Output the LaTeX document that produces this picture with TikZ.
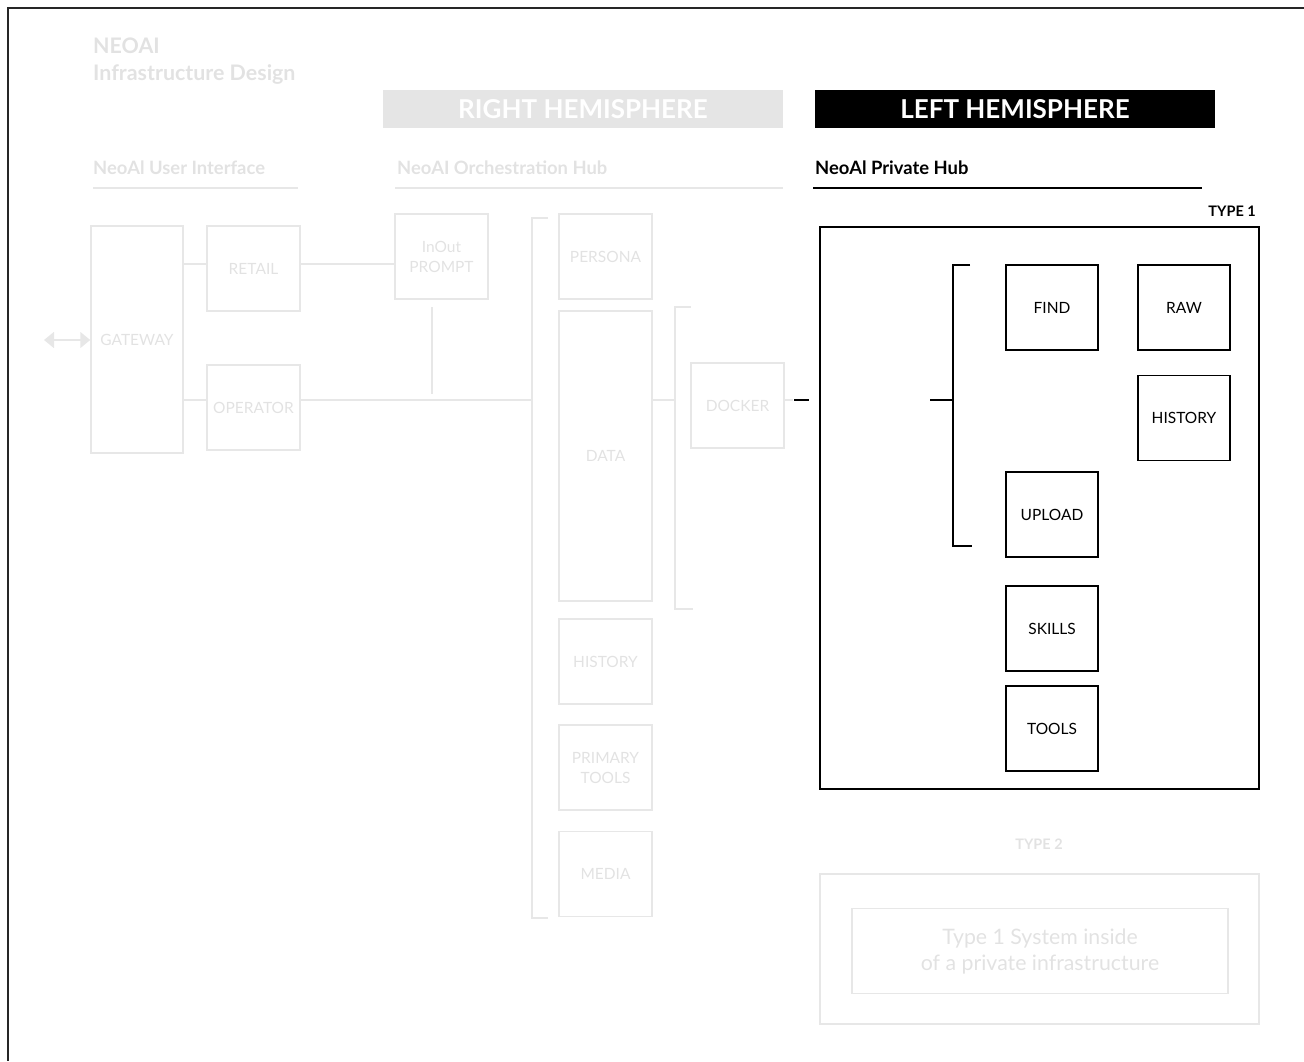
\documentclass[tikz,border=0pt]{standalone}
\usepackage{fontspec}
\setmainfont{Lato}
\usetikzlibrary{arrows.meta,calc}
\definecolor{faint}{RGB}{231,231,231}
\definecolor{fainttx}{RGB}{226,226,226}
\definecolor{hemigray}{RGB}{229,229,229}
\begin{document}
\begin{tikzpicture}[x=1pt,y=-1pt,
  fbox/.style={draw=faint,line width=1.5pt,inner sep=0pt,text=fainttx,
    font=\fontsize{15.5}{20}\selectfont,align=center,minimum width=93pt,minimum height=85pt},
  bbox/.style={draw=black,line width=1.3pt,inner sep=0pt,text=black,
    font=\fontsize{15.5}{20}\selectfont,align=center,minimum width=92pt,minimum height=85pt},
  fline/.style={draw=faint,line width=1.5pt},
  bline/.style={draw=black,line width=1.3pt},
  hemi/.style={inner sep=0pt,minimum width=400pt,minimum height=38pt,text=white,
    font=\bfseries\fontsize{26}{30}\selectfont},
  sect/.style={inner sep=0pt,anchor=base west,font=\bfseries\fontsize{18.4}{22}\selectfont},
  ttl/.style={inner sep=0pt,anchor=base west,text=fainttx,font=\bfseries\fontsize{21.4}{26}\selectfont},
  typelbl/.style={inner sep=0pt,font=\bfseries\fontsize{14.5}{18}\selectfont}
]
\useasboundingbox (0,0) rectangle (1304,1061);
% frame
\coordinate (frTL) at (8,8);
\coordinate (frTR) at (1304,8);
\coordinate (frBL) at (8,1061);
\draw[line width=1.5pt,draw=black!85] (frTR) -- (frTL) -- (frBL);

% title
\node[ttl] (t1) at (93,53) {NEOAI};
\node[ttl] (t2) at (93,80) {Infrastructure Design};

% hemispheres
\node[hemi,fill=hemigray] (rh) at (583,109) {RIGHT HEMISPHERE};
\node[hemi,fill=black] (lh) at (1015,109) {LEFT HEMISPHERE};

% section headings
\node[sect,text=fainttx] (s1) at (93,174) {NeoAl User Interface};
\node[sect,text=fainttx] (s2) at (397,174) {NeoAI Orchestration Hub};
\node[sect,text=black] (s3) at (815,174) {NeoAl Private Hub};
\coordinate (u1a) at (93,188); \coordinate (u1b) at (298,188);
\coordinate (u2a) at (395,188); \coordinate (u2b) at (783,188);
\coordinate (u3a) at (813,188); \coordinate (u3b) at (1202,188);
\draw[fline] (u1a) -- (u1b);
\draw[fline] (u2a) -- (u2b);
\draw[bline] (u3a) -- (u3b);

% UI column
\node[fbox,minimum width=92pt,minimum height=227pt] (gw) at (137,339.5) {GATEWAY};
\node[fbox] (retail) at (253.5,268.5) {RETAIL};
\node[fbox] (oper) at (253.5,407.5) {OPERATOR};
\coordinate (arrL) at (44,340);
\draw[draw=faint,fill=faint,line width=1.5pt,{Triangle[length=10pt,width=16pt]}-{Triangle[length=10pt,width=16pt]}] (arrL) -- (gw.west |- arrL);
\draw[fline] ([yshift=4.5pt]retail.west) -- ([yshift=4.5pt]retail.west -| gw.east);
\draw[fline] ([yshift=7.5pt]oper.west) -- ([yshift=7.5pt]oper.west -| gw.east);

% Orchestration
\node[fbox] (inout) at (441.5,256.5) {InOut\\PROMPT};
\draw[fline] ([yshift=4.5pt]retail.east) -- ([yshift=4.5pt]retail.east -| inout.west);
\coordinate (b1t) at (548,218);
\coordinate (b1tc) at (532,218);
\coordinate (b1bc) at (532,918);
\coordinate (b1b) at (548,918);
\draw[fline] (b1t) -- (b1tc) -- (b1bc) -- (b1b);
\draw[fline] ([yshift=7.5pt]oper.east) -- ([yshift=7.5pt]oper.east -| b1tc);
\draw[fline] ([xshift=-9.5pt,yshift=-7pt]inout.south) -- ([xshift=-9.5pt,yshift=-94pt]inout.south);

\node[fbox] (persona) at (605.5,256.5) {PERSONA};
\node[fbox,minimum height=290pt] (data) at (605.5,456) {DATA};
\node[fbox] (hist1) at (605.5,661.5) {HISTORY};
\node[fbox] (prim) at (605.5,767.5) {PRIMARY\\TOOLS};
\node[fbox] (media) at (605.5,874) {MEDIA};

\coordinate (b2t) at (691,307);
\coordinate (b2tc) at (675,307);
\coordinate (b2bc) at (675,609);
\coordinate (b2b) at (693,609);
\draw[fline] (b2t) -- (b2tc) -- (b2bc) -- (b2b);
\draw[fline] ([yshift=56pt]data.east) -- ([yshift=56pt]data.east -| b2tc);

\node[fbox] (docker) at (737.5,405.5) {DOCKER};
\coordinate (dk1) at (793,400);
\coordinate (dk2) at (794,400);
\coordinate (dk3) at (809,400);
\draw[fline] ([yshift=5.5pt]docker.east) -- (dk1);
\draw[bline] (dk2) -- (dk3);

% Private hub
\node[typelbl,anchor=east] (ty1) at (1256,211) {TYPE 1};
\node[draw=black,line width=1.3pt,inner sep=0pt,minimum width=439pt,minimum height=562pt] (t1box) at (1039.5,508) {};
\coordinate (b3l) at (930,400);
\coordinate (b3m) at (953,400);
\coordinate (b3t) at (970,265);
\coordinate (b3tc) at (953,265);
\coordinate (b3bc) at (953,546);
\coordinate (b3b) at (972,546);
\draw[bline] (b3l) -- (b3m);
\draw[bline] (b3t) -- (b3tc) -- (b3bc) -- (b3b);

\node[bbox] (find) at (1052,307.5) {FIND};
\node[bbox] (raw) at (1184,307.5) {RAW};
\node[bbox] (hist2) at (1184,418) {HISTORY};
\node[bbox] (upload) at (1052,514.5) {UPLOAD};
\node[bbox] (skills) at (1052,628.5) {SKILLS};
\node[bbox] (tools) at (1052,728.5) {TOOLS};

% Type 2
\node[typelbl,text=fainttx] (ty2) at (1039,844) {TYPE 2};
\node[draw=faint,line width=1.5pt,inner sep=0pt,minimum width=439pt,minimum height=150pt] (t2box) at (1039.5,949) {};
\node[draw=faint,line width=1.5pt,inner sep=0pt,minimum width=376pt,minimum height=85pt,
  text=fainttx,align=center,font=\fontsize{21.3}{26}\selectfont] (t2in) at (1040,951)
  {Type 1 System inside\\of a private infrastructure};
\end{tikzpicture}
\end{document}
